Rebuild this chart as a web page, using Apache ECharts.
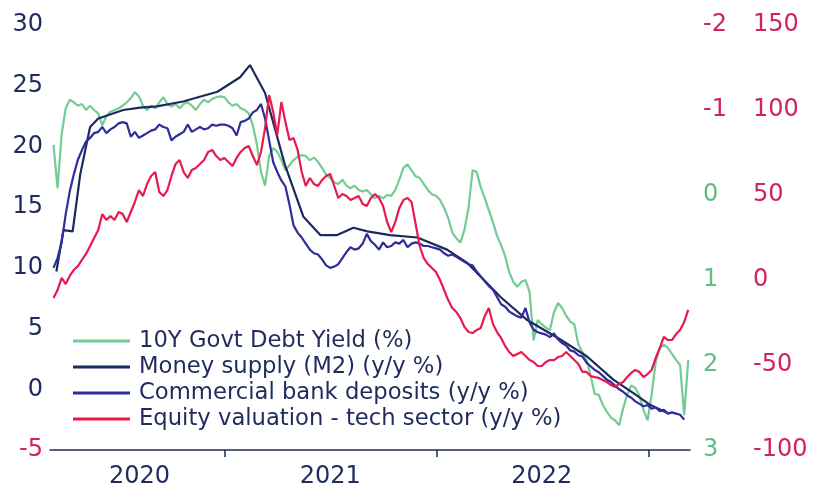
<!DOCTYPE html>
<html><head><meta charset="utf-8">
<script src="https://cdn.jsdelivr.net/npm/echarts@6/dist/echarts.min.js"></script>
<style>html,body{margin:0;padding:0;background:#fff}#c{width:814px;height:491px}</style>
</head><body><div id="c"></div>
<script>
// ---- DATA ----
const weeks = ("2020-03-13 2020-03-20 2020-03-27 2020-04-03 2020-04-10 2020-04-17 2020-04-24 2020-05-01 2020-05-08 2020-05-15 2020-05-22 2020-05-29 " +
"2020-06-05 2020-06-12 2020-06-19 2020-06-26 2020-07-03 2020-07-10 2020-07-17 2020-07-24 2020-07-31 2020-08-07 2020-08-14 2020-08-21 2020-08-28 " +
"2020-09-04 2020-09-11 2020-09-18 2020-09-25 2020-10-02 2020-10-09 2020-10-16 2020-10-23 2020-10-30 2020-11-06 2020-11-13 2020-11-20 2020-11-27 " +
"2020-12-04 2020-12-11 2020-12-18 2020-12-25 " +
"2021-01-01 2021-01-08 2021-01-15 2021-01-22 2021-01-29 2021-02-05 2021-02-12 2021-02-19 2021-02-26 2021-03-05 2021-03-12 2021-03-19 2021-03-26 " +
"2021-04-02 2021-04-09 2021-04-16 2021-04-23 2021-04-30 2021-05-07 2021-05-14 2021-05-21 2021-05-28 2021-06-04 2021-06-11 2021-06-18 2021-06-25 " +
"2021-07-02 2021-07-09 2021-07-16 2021-07-23 2021-07-30 2021-08-06 2021-08-13 2021-08-20 2021-08-27 2021-09-03 2021-09-10 2021-09-17 2021-09-24 " +
"2021-10-01 2021-10-08 2021-10-15 2021-10-22 2021-10-29 2021-11-05 2021-11-12 2021-11-19 2021-11-26 2021-12-03 2021-12-10 2021-12-17 2021-12-24 2021-12-31 " +
"2022-01-07 2022-01-14 2022-01-21 2022-01-28 2022-02-04 2022-02-11 2022-02-18 2022-02-25 2022-03-04 2022-03-11 2022-03-18 2022-03-25 " +
"2022-04-01 2022-04-08 2022-04-15 2022-04-22 2022-04-29 2022-05-06 2022-05-13 2022-05-20 2022-05-27 2022-06-03 2022-06-10 2022-06-17 2022-06-24 " +
"2022-07-01 2022-07-08 2022-07-15 2022-07-22 2022-07-29 2022-08-05 2022-08-12 2022-08-19 2022-08-26 2022-09-02 2022-09-09 2022-09-16 2022-09-23 2022-09-30 " +
"2022-10-07 2022-10-14 2022-10-21 2022-10-28 2022-11-04 2022-11-11 2022-11-18 2022-11-25 2022-12-02 2022-12-09 2022-12-16 2022-12-23 2022-12-30 " +
"2023-01-06 2023-01-13 2023-01-20 2023-01-27 2023-02-03 2023-02-10 2023-02-17 2023-02-24 2023-03-03 2023-03-10").split(" ");

// 10Y Govt Debt Yield (%) - right inverted axis
const yield10y = [-0.59,-0.08,-0.71,-1.02,-1.12,-1.09,-1.05,-1.07,-1.00,-1.05,
-1.00,-0.96,-0.82,-0.93,-0.98,-1.00,-1.02,-1.05,-1.09,-1.14,
-1.21,-1.16,-1.05,-1.00,-1.05,-1.02,-1.09,-1.15,-1.07,-1.04,
-1.07,-1.02,-1.07,-1.09,-1.05,-1.00,-1.07,-1.12,-1.09,-1.13,
-1.15,-1.16,-1.15,-1.09,-1.05,-1.07,-1.02,-1.00,-0.96,-0.82,
-0.59,-0.27,-0.11,-0.46,-0.55,-0.51,-0.41,-0.29,-0.35,-0.41,
-0.45,-0.47,-0.46,-0.41,-0.44,-0.39,-0.32,-0.24,-0.20,-0.15,
-0.13,-0.18,-0.11,-0.08,-0.11,-0.06,-0.04,-0.06,-0.01,0.04,
0.01,0.04,0.00,0.01,-0.06,-0.18,-0.32,-0.36,-0.29,-0.22,
-0.20,-0.13,-0.06,-0.01,0.01,0.06,0.15,0.27,0.44,0.51,
0.56,0.41,0.15,-0.29,-0.27,-0.09,0.04,0.18,0.32,0.48,
0.59,0.72,0.91,1.02,1.08,1.02,1.00,1.14,1.71,1.47,
1.52,1.56,1.59,1.38,1.27,1.33,1.42,1.49,1.52,1.76,
1.85,1.94,2.12,2.34,2.35,2.47,2.55,2.62,2.65,2.71,
2.51,2.35,2.24,2.27,2.36,2.53,2.65,2.35,1.96,1.80,
1.76,1.80,1.87,1.94,2.00,2.59,1.94];

// Equity valuation - tech sector (y/y %) - right axis
const equityTech = [-10.6,-5.9,1.2,-2.4,2.4,5.9,8.2,11.8,15.3,20.0,
24.7,29.4,38.8,35.3,37.6,35.3,40.0,38.8,34.1,40.0,
45.9,52.9,49.4,56.5,61.2,63.5,51.8,49.4,52.9,61.2,
68.2,70.6,63.5,60.0,64.7,65.9,68.2,70.6,75.3,76.5,
72.9,70.6,71.8,69.4,67.1,71.8,75.3,77.6,78.8,72.9,
67.6,75.3,89.4,108.8,98.8,85.3,104.7,92.9,82.4,83.5,
76.5,63.5,55.3,60.0,56.5,55.3,58.8,61.2,62.4,55.3,
48.2,50.6,49.4,47.1,48.2,49.4,44.7,43.5,48.2,50.6,
48.2,43.5,34.1,28.2,34.1,42.4,47.1,48.2,45.9,32.9,
20.0,12.9,9.4,7.1,4.7,0.0,-5.9,-11.8,-16.5,-18.8,
-22.4,-27.6,-30.6,-31.2,-29.4,-28.2,-21.2,-16.5,-25.9,-30.6,
-34.1,-38.8,-42.4,-44.7,-43.5,-42.4,-44.7,-47.1,-48.2,-50.6,
-50.6,-48.2,-47.1,-47.1,-45.3,-44.7,-42.4,-44.7,-47.1,-49.4,
-54.1,-54.1,-56.5,-57.1,-57.6,-58.8,-60.0,-61.8,-62.9,-61.2,
-60.0,-57.1,-54.7,-52.9,-54.1,-57.1,-55.3,-52.9,-45.9,-40.0,
-33.5,-35.3,-35.3,-31.8,-29.4,-24.7,-17.6];

// Commercial bank deposits (y/y %) - left axis
const deposits = [10.0,10.8,12.1,14.4,16.3,17.7,18.9,19.7,20.4,20.7,
21.1,21.2,21.6,21.1,21.4,21.6,21.9,22.0,21.9,20.8,
21.2,20.7,20.9,21.1,21.3,21.4,21.8,21.6,21.5,20.5,
20.8,21.0,21.2,21.8,21.2,21.4,21.6,21.4,21.5,21.8,
21.7,21.8,21.8,21.7,21.5,20.9,22.0,22.1,22.3,22.8,
23.0,23.5,22.3,20.5,18.7,17.9,17.2,16.7,15.2,13.5,
12.9,12.5,12.0,11.5,11.2,11.1,10.7,10.2,10.0,10.1,
10.3,10.8,11.3,11.7,11.5,11.6,12.0,12.8,12.2,11.9,
11.5,12.1,11.7,11.8,12.1,12.0,12.3,11.7,12.0,12.1,
12.0,11.8,11.8,11.7,11.6,11.5,11.2,11.0,11.1,10.9,
10.7,10.5,10.3,10.2,9.7,9.3,8.9,8.5,8.2,7.6,
7.0,6.8,6.4,6.2,6.0,5.9,6.7,5.5,4.9,4.7,
4.6,4.5,4.3,4.6,4.1,3.8,3.6,3.2,3.1,2.8,
2.7,2.2,1.9,1.6,1.4,1.1,0.8,0.6,0.3,0.0,
-0.2,-0.5,-0.7,-1.0,-1.2,-1.4,-1.3,-1.6,-1.5,-1.8,
-1.7,-2.0,-1.9,-2.0,-2.1,-2.5,null];

// Money supply (M2) (y/y %) - left axis, monthly-ish points
const m2Dates = ["2020-03-18","2020-03-30","2020-04-15","2020-04-28","2020-05-15","2020-05-29","2020-07-11","2020-08-09",
"2020-09-07","2020-10-22","2020-12-20","2021-01-28","2021-02-14","2021-03-12","2021-04-15","2021-05-17","2021-06-15",
"2021-07-14","2021-08-11","2021-09-04","2021-10-13","2021-11-29","2022-01-19","2022-02-23","2022-04-21","2022-06-06",
"2022-08-02","2022-09-17","2022-11-01","2022-12-05","2023-01-04","2023-02-04"];
const m2Values = [9.7,13.1,13.0,17.7,21.6,22.3,23.0,23.2,
23.3,23.7,24.5,25.7,26.7,24.4,18.5,14.2,12.7,
12.7,13.3,13.0,12.7,12.5,11.5,10.4,7.6,5.7,
4.1,2.7,0.8,-0.3,-1.3,-2.0];

const seriesNames = ["10Y Govt Debt Yield (%)","Money supply (M2) (y/y %)","Commercial bank deposits (y/y %)","Equity valuation - tech sector (y/y %)"];
const yearTicks = ["2021-01-01","2022-01-01","2023-01-01"];
const yearLabels = ["2020","2021","2022"];
const yearLabelDates = ["2020-08-08","2021-07-02","2022-07-01"];

// ---- STYLE ----
const FONT = "DejaVu Sans";
const NAVY = "#1e2b5c";
const GREEN = "#72cc93";
const GREEN_TXT = "#62bd85";
const RED = "#e8194f";
const RED_TXT = "#d0245a";
const M2C = "#1b2b5b";
const DEPC = "#2f2c9c";

const ts = d => Date.UTC(+d.slice(0, 4), +d.slice(5, 7) - 1, +d.slice(8, 10));
const pairs = (xs, ys) => xs.map((d, i) => [ts(d), ys[i]]);
const labelTs = yearLabelDates.map(ts);

const chart = echarts.init(document.getElementById("c"), null, {renderer: "canvas"});
const lineSeries = (name, data, color, yAxisIndex) => ({
  name, type: "line", data, yAxisIndex, showSymbol: false, symbol: "none",
  color, lineStyle: {color, width: 2.2}, connectNulls: false
});

chart.setOption({
  animation: false,
  backgroundColor: "#fff",
  grid: {left: 50, right: 124, top: 25, bottom: 41},
  legend: {
    orient: "vertical", left: 73, top: 328, padding: 0, itemGap: 0,
    itemWidth: 57, itemHeight: 3, icon: "rect",
    textStyle: {fontFamily: FONT, fontSize: 22.7, color: NAVY, lineHeight: 26, padding: [0, 0, 0, 4]},
    data: seriesNames
  },
  xAxis: {
    type: "value", min: ts("2020-03-07"), max: ts("2023-03-13"),
    axisLine: {onZero: false, lineStyle: {color: NAVY, width: 1.5}},
    axisTick: {show: true, customValues: yearTicks.map(ts), length: 7, lineStyle: {color: NAVY, width: 1.5}},
    axisLabel: {
      customValues: labelTs, fontFamily: FONT, fontSize: 24, color: NAVY, margin: 15,
      formatter: v => {
        let best = 0;
        labelTs.forEach((t, i) => { if (Math.abs(t - v) < Math.abs(labelTs[best] - v)) best = i; });
        return yearLabels[best];
      }
    },
    splitLine: {show: false}
  },
  yAxis: [
    {
      type: "value", min: -5, max: 30, interval: 5, position: "left",
      axisLine: {show: false}, axisTick: {show: false}, splitLine: {show: false},
      axisLabel: {fontFamily: FONT, fontSize: 24, margin: 7, color: v => (Number(v) < 0 ? RED_TXT : NAVY)}
    },
    {
      type: "value", inverse: true, min: -2, max: 3, interval: 1, position: "right", offset: 0,
      axisLine: {show: false}, axisTick: {show: false}, splitLine: {show: false},
      axisLabel: {fontFamily: FONT, fontSize: 24, margin: 13, color: v => (Number(v) < 0 ? RED_TXT : GREEN_TXT)}
    },
    {
      type: "value", min: -100, max: 150, interval: 50, position: "right", offset: 50,
      axisLine: {show: false}, axisTick: {show: false}, splitLine: {show: false},
      axisLabel: {fontFamily: FONT, fontSize: 24, margin: 13, color: RED_TXT}
    }
  ],
  series: [
    lineSeries(seriesNames[0], pairs(weeks, yield10y), GREEN, 1),
    lineSeries(seriesNames[1], pairs(m2Dates, m2Values), M2C, 0),
    lineSeries(seriesNames[2], pairs(weeks, deposits), DEPC, 0),
    lineSeries(seriesNames[3], pairs(weeks, equityTech), RED, 2)
  ]
});
</script></body></html>
